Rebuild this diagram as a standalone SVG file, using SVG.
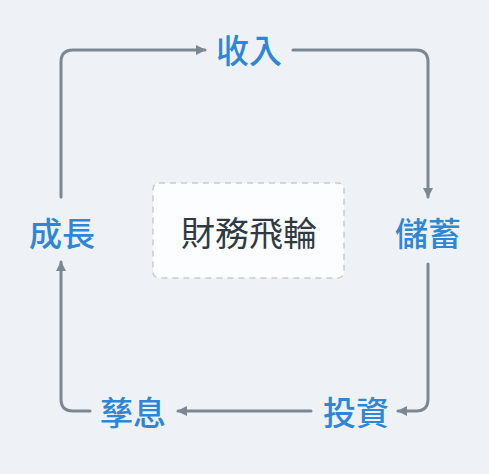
<svg xmlns="http://www.w3.org/2000/svg" width="489" height="474" viewBox="0 0 489 474">
<defs>
<marker id="ah" viewBox="0 0 10 10" refX="9" refY="5" markerWidth="10" markerHeight="10" markerUnits="userSpaceOnUse" orient="auto">
<path d="M0,0 L10,5 L0,10 Z" fill="#7d8792"/>
</marker>
<style>
.lbl{font-family:"Noto Sans CJK TC","Noto Sans CJK SC",sans-serif;font-size:33px;font-weight:500;fill:#2f86d4;text-anchor:middle;dominant-baseline:central}
.ctr{font-family:"Noto Sans CJK TC","Noto Sans CJK SC",sans-serif;font-size:34px;font-weight:400;fill:#313a44;text-anchor:middle;dominant-baseline:central}
.ln{fill:none;stroke:#7d8792;stroke-width:3;stroke-linecap:round;stroke-linejoin:round;marker-end:url(#ah)}
</style>
</defs>
<rect width="489" height="474" fill="#eef2f6"/>
<g id="connectors">
<path class="ln" d="M61,197 V62 Q61,50 73,50 H205"/>
<path class="ln" d="M293,50 H416 Q428,50 428,62 V197"/>
<path class="ln" d="M428,264 V399 Q428,411 416,411 H398"/>
<path class="ln" d="M311,411 H178"/>
<path class="ln" d="M90,411 H73 Q61,411 61,399 V262"/>
</g>
<g id="center">
<rect x="153" y="183" width="191" height="95" rx="6" fill="#fcfdfe" stroke="#c6ccd3" stroke-width="1.5" stroke-dasharray="6 5"/>
<text class="ctr" x="249" y="231">財務飛輪</text>
</g>
<g id="n-income"><text class="lbl" x="249" y="49">收入</text></g>
<g id="n-saving"><text class="lbl" x="428" y="232">儲蓄</text></g>
<g id="n-invest"><text class="lbl" x="356" y="411">投資</text></g>
<g id="n-interest"><text class="lbl" x="133" y="411">孳息</text></g>
<g id="n-growth"><text class="lbl" x="62" y="232">成長</text></g>
</svg>
